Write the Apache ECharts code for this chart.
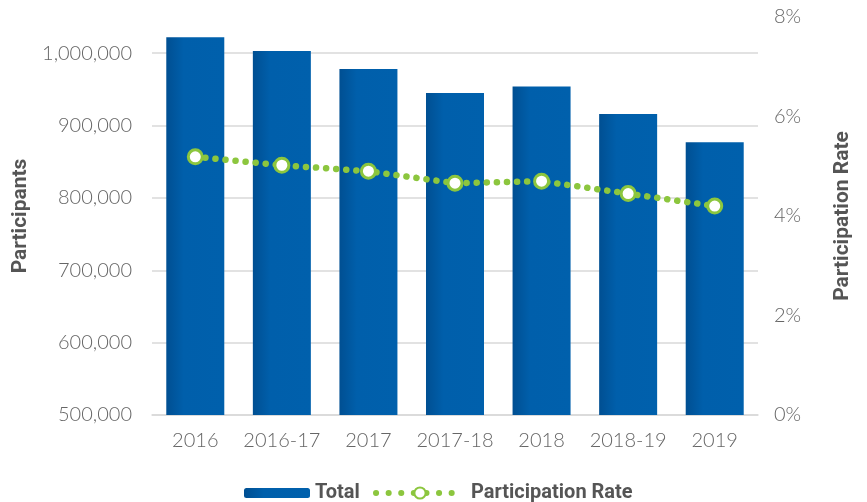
<!DOCTYPE html>
<html>
<head>
<meta charset="utf-8">
<script src="https://cdn.jsdelivr.net/npm/echarts@6/dist/echarts.min.js"></script>
<style>
  html, body { margin: 0; padding: 0; background: #fff; }
  #chart { width: 867px; height: 502px; }
</style>
</head>
<body>
<div id="chart"></div>
<script>
  // data
  const years = ['2016', '2016-17', '2017', '2017-18', '2018', '2018-19', '2019'];
  const totals = [1022000, 1003000, 978000, 945000, 954000, 916000, 877000];
  const rates = [5.19, 5.02, 4.90, 4.66, 4.70, 4.45, 4.20];
  const countTicks = [500000, 600000, 700000, 800000, 900000, 1000000];
  const rateTicks = [0, 2, 4, 6, 8];

  const labelFont = 'Lato, "Open Sans", sans-serif';
  const nameFont = 'Roboto, "DejaVu Sans", sans-serif';
  const green = '#8cc63e';
  const nameStyle = {fontFamily: nameFont, fontWeight: 'bold', fontSize: 21, color: '#555'};
  const tickStyle = {fontFamily: labelFont, fontWeight: 300, fontSize: 20, color: '#666'};

  const chart = echarts.init(document.getElementById('chart'));
  chart.setOption({
    animation: false,
    grid: {
      left: 152,
      right: 109,
      top: 17,
      bottom: 87,
    },
    legend: [
      {
        left: 239,
        top: 478,
        itemWidth: 66,
        itemHeight: 10,
        data: ['Total'],
        textStyle: {fontFamily: nameFont, fontWeight: 'bold', fontSize: 20, color: '#555'},
      },
      {
        left: 368,
        top: 478,
        itemWidth: 88,
        itemHeight: 14,
        data: ['Participation Rate'],
        lineStyle: {color: green, width: 6, type: [0.1, 12.5], cap: 'round'},
        textStyle: {fontFamily: nameFont, fontWeight: 'bold', fontSize: 20, color: '#555', padding: [0, 0, 0, 2]},
      },
    ],
    xAxis: {
      type: 'category',
      data: years,
      axisTick: {show: false},
      axisLine: {lineStyle: {color: '#d9d9d9', width: 1.5}},
      axisLabel: Object.assign({interval: 0, margin: 16}, tickStyle),
    },
    yAxis: [
      {
        type: 'value',
        min: countTicks[0],
        max: 1050000,
        interval: 100000,
        name: 'Participants',
        nameLocation: 'middle',
        nameGap: 118,
        nameTextStyle: nameStyle,
        axisLine: {show: false},
        axisTick: {show: false},
        axisLabel: Object.assign({
          showMaxLabel: false,
          margin: 20,
          formatter: (v) => countTicks.includes(v) ? v.toLocaleString('en-US') : '',
        }, tickStyle),
        splitLine: {
          showMaxLine: false,
          lineStyle: {color: '#d9d9d9', width: 1.5},
        },
      },
      {
        type: 'value',
        min: rateTicks[0],
        max: rateTicks[rateTicks.length - 1],
        interval: 2,
        name: 'Participation Rate',
        nameLocation: 'middle',
        nameGap: 74,
        nameRotate: 90,
        nameTextStyle: nameStyle,
        axisLine: {show: false},
        axisTick: {show: false},
        splitLine: {show: false},
        axisLabel: Object.assign({margin: 16, formatter: '{value}%'}, tickStyle),
      },
    ],
    series: [
      {
        name: 'Total',
        type: 'bar',
        data: totals,
        barWidth: '67%',
        itemStyle: {
          color: new echarts.graphic.LinearGradient(0, 0, 1, 0, [
            {offset: 0, color: '#004f92'},
            {offset: 0.3, color: '#005fab'},
            {offset: 1, color: '#0060ac'},
          ]),
        },
      },
      {
        name: 'Participation Rate',
        type: 'line',
        yAxisIndex: 1,
        data: rates,
        symbol: 'circle',
        symbolSize: 14,
        itemStyle: {color: '#fff', borderColor: green, borderWidth: 3},
        lineStyle: {
          color: green,
          width: 6.5,
          type: [0.1, 10],
          cap: 'round',
        },
        z: 5,
      },
    ],
  });
</script>
</body>
</html>
